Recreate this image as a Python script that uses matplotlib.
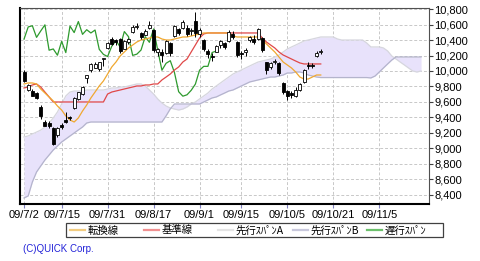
import matplotlib
matplotlib.use('Agg')
import matplotlib.pyplot as plt
from matplotlib.lines import Line2D
from matplotlib.patches import Rectangle
import numpy as np

# -------------------- DATA (trading days 09/7/2 .. 09/10/16) --------------------
opens = [9990, 9760, 9740, 9710, 9530, 9340, 9330, 9260, 9170, 9300,
         9360, 9410, 9520, 9640, 9700, 9910, 10010, 10045, 10030, 10150,
         10300, 10420, 10400, 10420, 10290, 10370, 10500, 10570, 10490, 10470,
         10550, 10530, 10240, 10250, 10230, 10360, 10450, 10540, 10560, 10560,
         10520, 10650, 10480, 10400, 10260, 10200, 10250, 10330, 10360, 10390,
         10480, 10380, 10230, 10250, 10400, 10410, 10420, 10430, 10110, 10050,
         10110, 10100, 9850, 9740, 9720, 9670, 9760, 9860, 10080, 10080,
         10190, 10240]
highs = [10010, 9830, 9770, 9730, 9560, 9370, 9350, 9270, 9270, 9330,
         9470, 9420, 9660, 9730, 9800, 9950, 10100, 10120, 10120, 10170,
         10370, 10440, 10420, 10430, 10400, 10430, 10590, 10620, 10510, 10540,
         10650, 10540, 10300, 10280, 10400, 10380, 10600, 10560, 10660, 10590,
         10560, 10767, 10560, 10410, 10280, 10230, 10340, 10400, 10380, 10530,
         10520, 10390, 10260, 10300, 10450, 10460, 10560, 10440, 10120, 10120,
         10160, 10110, 9860, 9760, 9740, 9790, 9850, 10020, 10110, 10100,
         10260, 10290]
lows = [9860, 9740, 9670, 9640, 9380, 9290, 9260, 9040, 9150, 9250,
        9330, 9360, 9510, 9620, 9690, 9840, 9990, 10040, 10000, 10060,
        10290, 10340, 10330, 10230, 10280, 10350, 10490, 10540, 10420, 10460,
        10540, 10250, 10200, 10120, 10220, 10200, 10440, 10470, 10540, 10450,
        10470, 10440, 10440, 10260, 10170, 10130, 10240, 10300, 10290, 10370,
        10420, 10180, 10150, 10200, 10380, 10350, 10400, 10250, 9960, 10030,
        10090, 9950, 9700, 9630, 9650, 9660, 9740, 9850, 10030, 10040,
        10180, 10220]
closes = [9876, 9816, 9681, 9648, 9421, 9291, 9287, 9050, 9262, 9269,
          9344, 9395, 9652, 9723, 9793, 9945, 10089, 10087, 10113, 10165,
          10357, 10352, 10375, 10253, 10388, 10412, 10570, 10585, 10435, 10518,
          10597, 10269, 10285, 10204, 10383, 10238, 10581, 10497, 10640, 10474,
          10534, 10492, 10530, 10280, 10215, 10187, 10321, 10393, 10312, 10510,
          10444, 10202, 10218, 10271, 10444, 10371, 10544, 10266, 10010, 10100,
          10133, 9979, 9732, 9674, 9692, 9750, 9830, 10010, 10060, 10060,
          10239, 10258]

# 転換線 / 基準線 (one value per trading day)
tenkan = [9832, 9845, 9845, 9832, 9767, 9715, 9664, 9612, 9547, 9495,
          9418, 9366, 9340, 9392, 9482, 9560, 9651, 9728, 9806, 9871,
          9961, 10052, 10116, 10194, 10246, 10298, 10336, 10375, 10401, 10414,
          10427, 10440, 10440, 10414, 10401, 10401, 10414, 10427, 10440, 10440,
          10453, 10466, 10479, 10492, 10492, 10492, 10492, 10492, 10492, 10492,
          10453, 10440, 10440, 10440, 10440, 10440, 10440, 10401, 10350, 10298,
          10246, 10181, 10116, 10078, 10039, 9987, 9922, 9896, 9896, 9922,
          9948, 9948]
kijun = [9780, 9793, 9819, 9832, 9793, 9728, 9664, 9599, 9599, 9599,
         9599, 9599, 9599, 9599, 9599, 9599, 9599, 9599, 9599, 9599,
         9702, 9728, 9741, 9754, 9767, 9780, 9793, 9806, 9806, 9819,
         9819, 9832, 9832, 9884, 9922, 9961, 10013, 10052, 10116, 10155,
         10246, 10336, 10427, 10479, 10492, 10492, 10492, 10492, 10492, 10492,
         10492, 10492, 10492, 10492, 10492, 10492, 10492, 10427, 10375, 10336,
         10298, 10246, 10207, 10181, 10155, 10129, 10104, 10091, 10091, 10091,
         10091, 10091]

# 先行スパンA / B (run 25 days past the last candle)
span_a = [9146, 9160, 9185, 9210, 9235, 9275, 9327, 9392, 9470, 9573,
          9677, 9728, 9741, 9741, 9741, 9754, 9754, 9754, 9754, 9754,
          9767, 9780, 9780, 9793, 9793, 9806, 9819, 9832, 9832, 9806,
          9754, 9702, 9638, 9586, 9547, 9521, 9508, 9495, 9508, 9534,
          9573, 9599, 9638, 9677, 9715, 9767, 9806, 9845, 9884, 9922,
          9961, 9987, 10013, 10039, 10065, 10091, 10116, 10129, 10142, 10155,
          10181, 10207, 10246, 10285, 10311, 10336, 10362, 10388, 10401, 10414,
          10427, 10440, 10440, 10440, 10440, 10414, 10401, 10401, 10401, 10401,
          10401, 10401, 10362, 10311, 10311, 10311, 10298, 10259, 10194, 10155,
          10116, 10078, 10039, 10000, 9987, 10000]
span_b = [8357, 8383, 8564, 8693, 8771, 8848, 8913, 8978, 9030, 9081,
          9120, 9159, 9198, 9237, 9275, 9327, 9340, 9340, 9340, 9340,
          9340, 9340, 9340, 9340, 9340, 9340, 9340, 9340, 9340, 9340,
          9340, 9340, 9340, 9340, 9420, 9510, 9573, 9573, 9573, 9573,
          9573, 9573, 9573, 9599, 9625, 9651, 9664, 9690, 9715, 9741,
          9754, 9780, 9806, 9832, 9858, 9871, 9884, 9897, 9910, 9922,
          9922, 9935, 9948, 9974, 9974, 9987, 9987, 9974, 9948, 9935,
          9922, 9915, 9915, 9915, 9915, 9915, 9915, 9915, 9915, 9915,
          9915, 9915, 9915, 9910, 9935, 9987, 10039, 10091, 10142, 10181,
          10181, 10181, 10181, 10181, 10181, 10181]

# 遅行スパン = close drawn 25 days back
chikou_shift = 25

tick_pos = [0, 9, 20, 31, 42, 52, 63, 74, 85]
tick_labels = ["09/7/2", "09/7/15", "09/7/31", "09/8/17", "09/9/1",
               "09/9/15", "09/10/5", "09/10/21", "09/11/5"]
y_ticks = list(range(8400, 10801, 200))

legend_names = ["転換線", "基準線", "先行ｽﾊﾟﾝA", "先行ｽﾊﾟﾝB", "遅行ｽﾊﾟﾝ"]
legend_colors = ["#f2cc80", "#f09090", "#e4e4e4", "#c8c8dc", "#6cc06c"]

# -------------------- FIGURE --------------------
plt.rcParams['font.family'] = ['Liberation Sans', 'Noto Sans CJK JP']

W, H = 480, 261
fig = plt.figure(figsize=(W / 100, H / 100), dpi=100)
ax = fig.add_axes([19.5 / W, 1 - 204 / H, (429 - 19.5) / W, (204 - 8) / H])

n = len(closes)
x = np.arange(n)
xs = np.arange(len(span_a))

# cloud
ax.fill_between(xs, span_a, span_b, color="#e8e2fb", lw=0, zorder=1)
ax.plot(xs, span_a, color="#d6d6de", lw=0.9, zorder=2)
ax.plot(xs, span_b, color="#b4b4cc", lw=0.9, zorder=2)

# lines
ax.plot(np.arange(n - chikou_shift), closes[chikou_shift:],
        color="#2e9a2e", lw=0.9, zorder=3)
ax.plot(x, kijun, color="#e04848", lw=0.9, zorder=3)
ax.plot(x, tenkan, color="#f0a830", lw=0.9, zorder=3)

# candles
o = np.array(opens)
c = np.array(closes)
ax.vlines(x, lows, highs, color="black", lw=0.7, zorder=4)
bottoms = np.minimum(o, c)
heights = np.maximum(np.abs(c - o), 10)
faces = ["white" if cc >= oo else "black" for oo, cc in zip(o, c)]
ax.bar(x, heights, bottom=bottoms, width=0.72, color=faces,
       edgecolor="black", lw=0.6, zorder=5)

# axes
ax.set_xlim(-1.08, 96.9)
ax.set_ylim(8279, 10815)
ax.set_xticks(tick_pos)
ax.set_xticklabels(tick_labels)
ax.set_yticks(y_ticks)
ax.set_yticklabels([f"{v:,}" for v in y_ticks])
ax.yaxis.tick_right()
ax.tick_params(axis='y', direction='out', length=3, width=0.8, color='#404040',
               labelsize=8, pad=1)
ax.tick_params(axis='x', direction='out', length=3, width=0.8, color='#8080c0',
               labelsize=8, pad=1.5)
ax.grid(True, color="#c8c8c8", lw=0.7, linestyle=(0, (3, 2)), zorder=0)
ax.set_axisbelow(True)
for side in ["left", "bottom"]:
    ax.spines[side].set_linewidth(1.5)
    ax.spines[side].set_color("black")
for side in ["top", "right"]:
    ax.spines[side].set_linewidth(0.8)
    ax.spines[side].set_color("#505050")

# -------------------- LEGEND --------------------
def fx(px):
    return px / W

def fy(py):
    return 1 - py / H

fig.patches.append(Rectangle((fx(66), fy(237)), fx(443) - fx(66), fy(223) - fy(237),
                             transform=fig.transFigure, fill=False,
                             edgecolor="#404040", lw=0.9))
item_x = [70, 144, 218, 293, 367]
for lx, name, col in zip(item_x, legend_names, legend_colors):
    fig.lines.append(Line2D([fx(lx), fx(lx + 15)], [fy(230), fy(230)],
                            transform=fig.transFigure, color=col, lw=1.6))
    fig.text(fx(lx + 18), fy(230.5), name, fontsize=7.5, va="center", ha="left",
             family=['Noto Sans CJK JP', 'DejaVu Sans'])

fig.text(fx(23), fy(248.5), "(C)QUICK Corp.", fontsize=7, color="#2323d8",
         va="center", ha="left")

fig.savefig("out.png", dpi=100)
